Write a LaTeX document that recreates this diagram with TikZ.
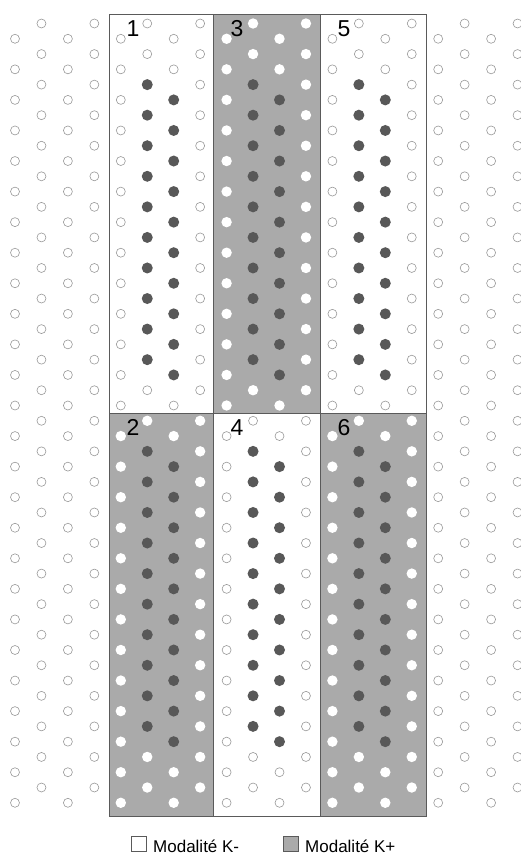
\documentclass[tikz,border=0pt]{standalone}
\usepackage{fontspec}
\setmainfont{Liberation Sans}
\usetikzlibrary{positioning}
\definecolor{panelcol}{HTML}{AAAAAA}
\definecolor{dotcol}{HTML}{585858}
\definecolor{ringcol}{HTML}{999999}
\definecolor{edgecol}{HTML}{5A5A5A}

\begin{document}
\begin{tikzpicture}[x=1pt,y=-1pt,
  panel/.style={draw=edgecol,line width=0.8pt},
  opendot/.style={draw=ringcol,line width=0.6pt,fill=white,radius=4.5pt},
  whitedot/.style={fill=white,radius=5.2pt},
  darkdot/.style={fill=dotcol,radius=5.5pt},
  numlabel/.style={anchor=base,font=\fontsize{23}{23}\selectfont,inner sep=0pt},
  legbox/.style={draw=edgecol,line width=0.6pt,minimum size=15pt,inner sep=0pt},
  legtext/.style={anchor=base west,font=\fontsize{17}{17}\selectfont,inner sep=0pt}]
  \useasboundingbox (0,0) rectangle (520,854);
  % the six panels
  \foreach \c/\xa/\xb in {0/109/213,1/213/320,2/320/426}{
    \foreach \r/\ya/\yb in {0/14/413,1/413/816}{
      \pgfmathtruncatemacro\shade{mod(\c+\r,2)}
      \ifnum\shade=1
        \path[panel,fill=panelcol] (\xa,\ya) rectangle (\xb,\yb);
      \else
        \path[panel,fill=white] (\xa,\ya) rectangle (\xb,\yb);
      \fi
    }
  }
  % the staggered dots, 20 columns of 26
  \foreach \i in {0,...,19}{
    \foreach \k in {0,...,25}{
      \pgfmathsetmacro\px{15+26.45*\i}
      \pgfmathsetmacro\py{23.5+30.56*\k+15.28*(1-mod(\i,2))}
      \pgfmathtruncatemacro\inside{and(\i>3,\i<16)}
      \pgfmathtruncatemacro\shade{mod(int((\i-4)/4)+(\k>12),2)}
      \pgfmathtruncatemacro\midcol{or(mod(\i,4)==1,mod(\i,4)==2)}
      \pgfmathtruncatemacro\inband{or(and(\k>1,\k<12),and(\k>13,\k<24))}
      \def\dotstyle{opendot}
      \ifnum\inside=1
        \ifnum\shade=1 \def\dotstyle{whitedot}\fi
        \ifnum\midcol\inband=11 \def\dotstyle{darkdot}\fi
      \fi
      \path[\dotstyle] (\px,\py) circle;
    }
  }
  % panel numbers
  \foreach \c/\xa in {0/109,1/213,2/320}{
    \foreach \r/\ya in {0/14,1/413}{
      \pgfmathtruncatemacro\num{2*\c+1+\r}
      \node[numlabel] (num\num) at (\xa+24,\ya+22.5) {\num};
    }
  }
  % legend
  \node[legbox,fill=white] (kminus) at (138.5,844) {};
  \node[legtext] (kminustxt) at (153,852) {Modalité K-};
  \node[legbox,fill=panelcol] (kplus) at (291,844) {};
  \node[legtext] (kplustxt) at (305,852) {Modalité K+};
\end{tikzpicture}
\end{document}
